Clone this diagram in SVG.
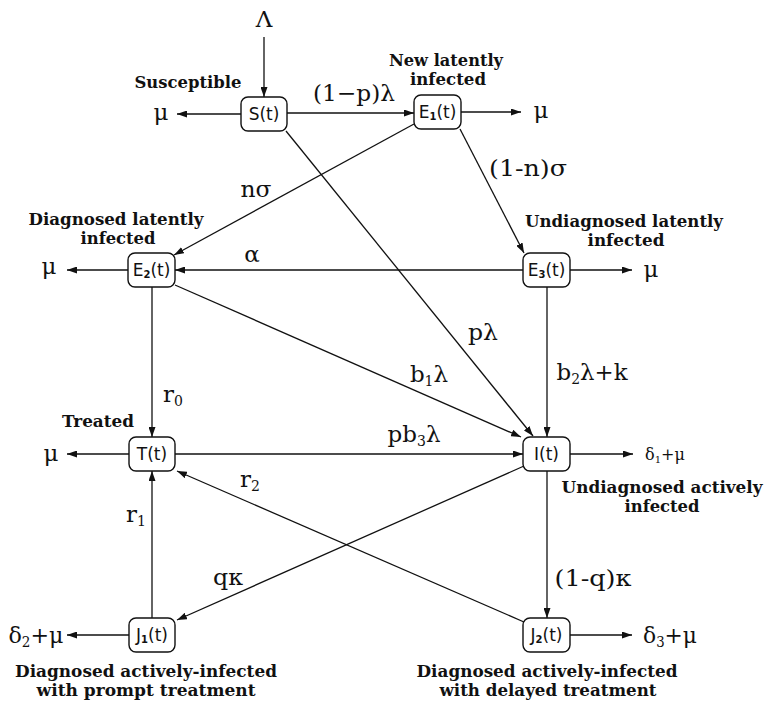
<svg xmlns="http://www.w3.org/2000/svg" width="766" height="701" viewBox="0 0 766 701">
<defs>
<marker id="ah" markerWidth="10" markerHeight="7" refX="10" refY="3.5" orient="auto" markerUnits="userSpaceOnUse">
<path d="M0,0 L10,3.5 L0,7 z" fill="#111"/>
</marker>
<style>
.box{fill:#fff;stroke:#111;stroke-width:1.4}
.nt{font-family:"DejaVu Sans",sans-serif;font-size:17px;fill:#111;text-anchor:middle}
.sub{font-size:10px;font-weight:bold}
.e{stroke:#111;stroke-width:1.3;fill:none;marker-end:url(#ah)}
.m{font-family:"DejaVu Serif","Liberation Serif",serif;font-size:23px;fill:#111;text-anchor:middle}
.ms{font-size:14px}
.c{font-family:"DejaVu Serif","Liberation Serif",serif;font-weight:bold;font-size:16px;fill:#111;text-anchor:middle}
</style>
</defs>
<rect width="766" height="701" fill="#fff"/>
<g id="connectors">
<line class="e" x1="264" y1="37" x2="264" y2="97"/>
<line class="e" x1="241" y1="114" x2="177" y2="114"/>
<line class="e" x1="287" y1="113" x2="414" y2="113"/>
<line class="e" x1="461" y1="112" x2="521" y2="112"/>
<line class="e" x1="414" y1="124" x2="174" y2="255"/>
<line class="e" x1="460" y1="129" x2="524" y2="253"/>
<line class="e" x1="286" y1="131" x2="533" y2="436"/>
<line class="e" x1="523" y1="270" x2="175" y2="270"/>
<line class="e" x1="570" y1="270" x2="632" y2="270"/>
<line class="e" x1="128" y1="270" x2="67" y2="270"/>
<line class="e" x1="152" y1="287" x2="152" y2="437"/>
<line class="e" x1="175" y1="285" x2="521" y2="437"/>
<line class="e" x1="547" y1="287" x2="547" y2="437"/>
<line class="e" x1="129" y1="454" x2="67" y2="454"/>
<line class="e" x1="175" y1="454" x2="523" y2="454"/>
<line class="e" x1="570" y1="454" x2="633" y2="454"/>
<line class="e" x1="524" y1="622" x2="177" y2="471"/>
<line class="e" x1="524" y1="466" x2="177" y2="620"/>
<line class="e" x1="152" y1="618" x2="152" y2="471"/>
<line class="e" x1="547" y1="471" x2="547" y2="618"/>
<line class="e" x1="129" y1="635" x2="67" y2="635"/>
<line class="e" x1="570" y1="635" x2="632" y2="635"/>
</g>
<g id="labels">
<text class="m" x="264" y="27">Λ</text>
<text class="m" x="161" y="120">μ</text>
<text class="m" x="354" y="101" textLength="82" lengthAdjust="spacingAndGlyphs">(1−p)λ</text>
<text class="m" x="541" y="118">μ</text>
<text class="m" x="256" y="197" textLength="31" lengthAdjust="spacingAndGlyphs">nσ</text>
<text class="m" x="528" y="176" textLength="78" lengthAdjust="spacingAndGlyphs">(1-n)σ</text>
<text class="m" x="252" y="262">α</text>
<text class="m" x="49" y="274">μ</text>
<text class="m" x="651" y="277">μ</text>
<text class="m" x="483" y="340" textLength="30" lengthAdjust="spacingAndGlyphs">pλ</text>
<text class="m" x="173" y="402">r<tspan class="ms" dy="4">0</tspan></text>
<text class="m" x="429" y="382">b<tspan class="ms" dy="4">1</tspan><tspan dy="-4">λ</tspan></text>
<text class="m" x="592" y="380" textLength="71" lengthAdjust="spacingAndGlyphs">b<tspan class="ms" dy="4">2</tspan><tspan dy="-4">λ+k</tspan></text>
<text class="m" x="414" y="442">pb<tspan class="ms" dy="4">3</tspan><tspan dy="-4">λ</tspan></text>
<text class="m" x="51" y="461">μ</text>
<text class="m" x="665" y="460" style="font-size:16px">δ<tspan style="font-size:10px" dy="3">1</tspan><tspan dy="-3">+μ</tspan></text>
<text class="m" x="250" y="487">r<tspan class="ms" dy="4">2</tspan></text>
<text class="m" x="136" y="522">r<tspan class="ms" dy="4">1</tspan></text>
<text class="m" x="228" y="585" textLength="30" lengthAdjust="spacingAndGlyphs">qκ</text>
<text class="m" x="593" y="586" textLength="77" lengthAdjust="spacingAndGlyphs">(1-q)κ</text>
<text class="m" x="36" y="643" textLength="55" lengthAdjust="spacingAndGlyphs">δ<tspan class="ms" dy="4">2</tspan><tspan dy="-4">+μ</tspan></text>
<text class="m" x="670" y="643" textLength="54" lengthAdjust="spacingAndGlyphs">δ<tspan class="ms" dy="4">3</tspan><tspan dy="-4">+μ</tspan></text>
</g>
<g id="captions">
<text class="c" x="188" y="88" textLength="107" lengthAdjust="spacingAndGlyphs">Susceptible</text>
<text class="c" x="446" y="66" textLength="114" lengthAdjust="spacingAndGlyphs">New latently</text>
<text class="c" x="448" y="85" textLength="76" lengthAdjust="spacingAndGlyphs">infected</text>
<text class="c" x="116" y="225" textLength="175" lengthAdjust="spacingAndGlyphs">Diagnosed latently</text>
<text class="c" x="118" y="244" textLength="75" lengthAdjust="spacingAndGlyphs">infected</text>
<text class="c" x="624" y="227" textLength="198" lengthAdjust="spacingAndGlyphs">Undiagnosed latently</text>
<text class="c" x="626" y="246" textLength="77" lengthAdjust="spacingAndGlyphs">infected</text>
<text class="c" x="98" y="427" textLength="72" lengthAdjust="spacingAndGlyphs">Treated</text>
<text class="c" x="662" y="493" textLength="201" lengthAdjust="spacingAndGlyphs">Undiagnosed actively</text>
<text class="c" x="662" y="512" textLength="75" lengthAdjust="spacingAndGlyphs">infected</text>
<text class="c" x="146" y="677" textLength="262" lengthAdjust="spacingAndGlyphs">Diagnosed actively-infected</text>
<text class="c" x="146" y="696" textLength="219" lengthAdjust="spacingAndGlyphs">with prompt treatment</text>
<text class="c" x="547" y="677" textLength="261" lengthAdjust="spacingAndGlyphs">Diagnosed actively-infected</text>
<text class="c" x="548" y="696" textLength="217" lengthAdjust="spacingAndGlyphs">with delayed treatment</text>
</g>
<g id="node-S"><rect class="box" x="241" y="97" width="46" height="34" rx="7"/><text class="nt" x="264" y="120">S(t)</text></g>
<g id="node-E1"><rect class="box" x="414" y="95" width="47" height="34" rx="7"/><text class="nt" x="437.5" y="118">E<tspan class="sub" dy="2">1</tspan><tspan dy="-2">(t)</tspan></text></g>
<g id="node-E2"><rect class="box" x="128" y="253" width="47" height="34" rx="7"/><text class="nt" x="151.5" y="276">E<tspan class="sub" dy="2">2</tspan><tspan dy="-2">(t)</tspan></text></g>
<g id="node-E3"><rect class="box" x="523" y="253" width="47" height="34" rx="7"/><text class="nt" x="546.5" y="276">E<tspan class="sub" dy="2">3</tspan><tspan dy="-2">(t)</tspan></text></g>
<g id="node-T"><rect class="box" x="129" y="437" width="46" height="34" rx="7"/><text class="nt" x="152" y="460">T(t)</text></g>
<g id="node-I"><rect class="box" x="523" y="437" width="47" height="34" rx="7"/><text class="nt" x="546.5" y="460">I(t)</text></g>
<g id="node-J1"><rect class="box" x="129" y="618" width="46" height="34" rx="7"/><text class="nt" x="152" y="641">J<tspan class="sub" dy="2">1</tspan><tspan dy="-2">(t)</tspan></text></g>
<g id="node-J2"><rect class="box" x="523" y="618" width="47" height="34" rx="7"/><text class="nt" x="546.5" y="641">J<tspan class="sub" dy="2">2</tspan><tspan dy="-2">(t)</tspan></text></g>
</svg>
